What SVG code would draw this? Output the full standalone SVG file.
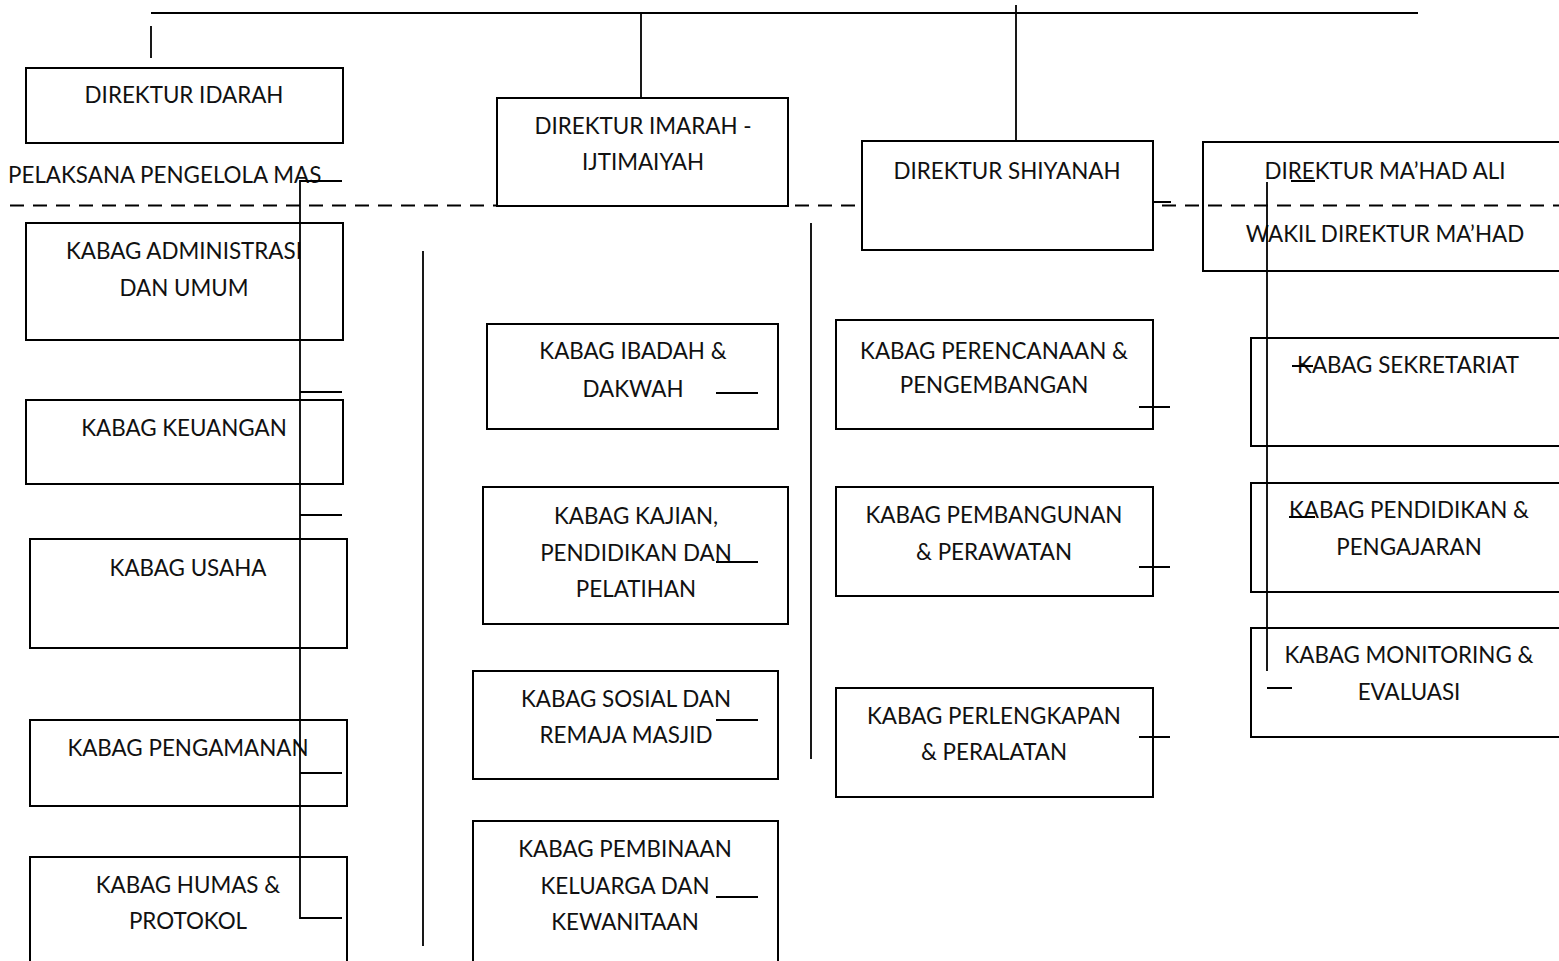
<svg xmlns="http://www.w3.org/2000/svg" width="1559" height="961" viewBox="0 0 1559 961">
<style>
.box{fill:#fff;stroke:#000;stroke-width:2}
.t{font-family:Lato,"Liberation Sans",sans-serif;font-size:22.4px;text-anchor:middle;fill:#111}
.ln{stroke:#000;stroke-width:1.8;fill:none}
.dash{stroke:#000;stroke-width:2;stroke-dasharray:14 9;fill:none}
</style>
<rect width="1559" height="961" fill="#fff"/>
<g id="node-idarah"><rect class="box" x="26" y="68" width="317" height="75"/><text class="t" x="184" y="103">DIREKTUR IDARAH</text></g>
<g id="label-pelaksana"><text class="t" x="8" y="183" style="text-anchor:start">PELAKSANA PENGELOLA MAS</text></g>
<g id="node-imarah"><rect class="box" x="497" y="98" width="291" height="108"/><text class="t" x="643" y="134">DIREKTUR IMARAH -</text><text class="t" x="643" y="170">IJTIMAIYAH</text></g>
<g id="node-shiyanah"><rect class="box" x="862" y="141" width="291" height="109"/><text class="t" x="1007" y="179">DIREKTUR SHIYANAH</text></g>
<g id="node-mahad"><rect class="box" x="1203" y="142" width="370" height="129"/><text class="t" x="1385" y="179">DIREKTUR MA’HAD ALI</text><text class="t" x="1385" y="242">WAKIL DIREKTUR MA’HAD</text></g>
<g id="node-admin"><rect class="box" x="26" y="223" width="317" height="117"/><text class="t" x="184" y="259">KABAG ADMINISTRASI</text><text class="t" x="184" y="296">DAN UMUM</text></g>
<g id="node-keuangan"><rect class="box" x="26" y="400" width="317" height="84"/><text class="t" x="184" y="436">KABAG KEUANGAN</text></g>
<g id="node-usaha"><rect class="box" x="30" y="539" width="317" height="109"/><text class="t" x="188" y="576">KABAG USAHA</text></g>
<g id="node-pengamanan"><rect class="box" x="30" y="720" width="317" height="86"/><text class="t" x="188" y="756">KABAG PENGAMANAN</text></g>
<g id="node-humas"><rect class="box" x="30" y="857" width="317" height="120"/><text class="t" x="188" y="893">KABAG HUMAS &amp;</text><text class="t" x="188" y="929">PROTOKOL</text></g>
<g id="node-ibadah"><rect class="box" x="487" y="324" width="291" height="105"/><text class="t" x="633" y="359">KABAG IBADAH &amp;</text><text class="t" x="633" y="397">DAKWAH</text></g>
<g id="node-kajian"><rect class="box" x="483" y="487" width="305" height="137"/><text class="t" x="636" y="524">KABAG KAJIAN,</text><text class="t" x="636" y="561">PENDIDIKAN DAN</text><text class="t" x="636" y="597">PELATIHAN</text></g>
<g id="node-sosial"><rect class="box" x="473" y="671" width="305" height="108"/><text class="t" x="626" y="707">KABAG SOSIAL DAN</text><text class="t" x="626" y="743">REMAJA MASJID</text></g>
<g id="node-pembinaan"><rect class="box" x="473" y="821" width="305" height="160"/><text class="t" x="625" y="857">KABAG PEMBINAAN</text><text class="t" x="625" y="894">KELUARGA DAN</text><text class="t" x="625" y="930">KEWANITAAN</text></g>
<g id="node-perencanaan"><rect class="box" x="836" y="320" width="317" height="109"/><text class="t" x="994" y="359">KABAG PERENCANAAN &amp;</text><text class="t" x="994" y="393">PENGEMBANGAN</text></g>
<g id="node-pembangunan"><rect class="box" x="836" y="487" width="317" height="109"/><text class="t" x="994" y="523">KABAG PEMBANGUNAN</text><text class="t" x="994" y="560">&amp; PERAWATAN</text></g>
<g id="node-perlengkapan"><rect class="box" x="836" y="688" width="317" height="109"/><text class="t" x="994" y="724">KABAG PERLENGKAPAN</text><text class="t" x="994" y="760">&amp; PERALATAN</text></g>
<g id="node-sekretariat"><rect class="box" x="1251" y="338" width="330" height="108"/><text class="t" x="1408" y="373">KABAG SEKRETARIAT</text></g>
<g id="node-pendidikan"><rect class="box" x="1251" y="483" width="330" height="109"/><text class="t" x="1409" y="518">KABAG PENDIDIKAN &amp;</text><text class="t" x="1409" y="555">PENGAJARAN</text></g>
<g id="node-monitoring"><rect class="box" x="1251" y="628" width="330" height="109"/><text class="t" x="1409" y="663">KABAG MONITORING &amp;</text><text class="t" x="1409" y="700">EVALUASI</text></g>
<g id="connectors">
<path class="dash" d="M10 205.5H497M795 205.5H862M1162 205.5H1559"/>
<path class="ln" d="M151 13H1418M151 26V58M641 13V98M1016 5V141"/>
<path class="ln" d="M342 181H300V918H342M300 392H342M300 515H342M300 773H342"/>
<path class="ln" d="M423 251V946M811 223V759"/>
<path class="ln" d="M716 393H758M716 562H758M716 720H758M716 897H758"/>
<path class="ln" d="M1139 407H1170M1139 567H1170M1139 737H1170M1153 202H1171"/>
<path class="ln" d="M1267 182V671M1267 688H1292M1291 181H1315M1292 366H1313M1289 517H1315"/>
</g>
</svg>
